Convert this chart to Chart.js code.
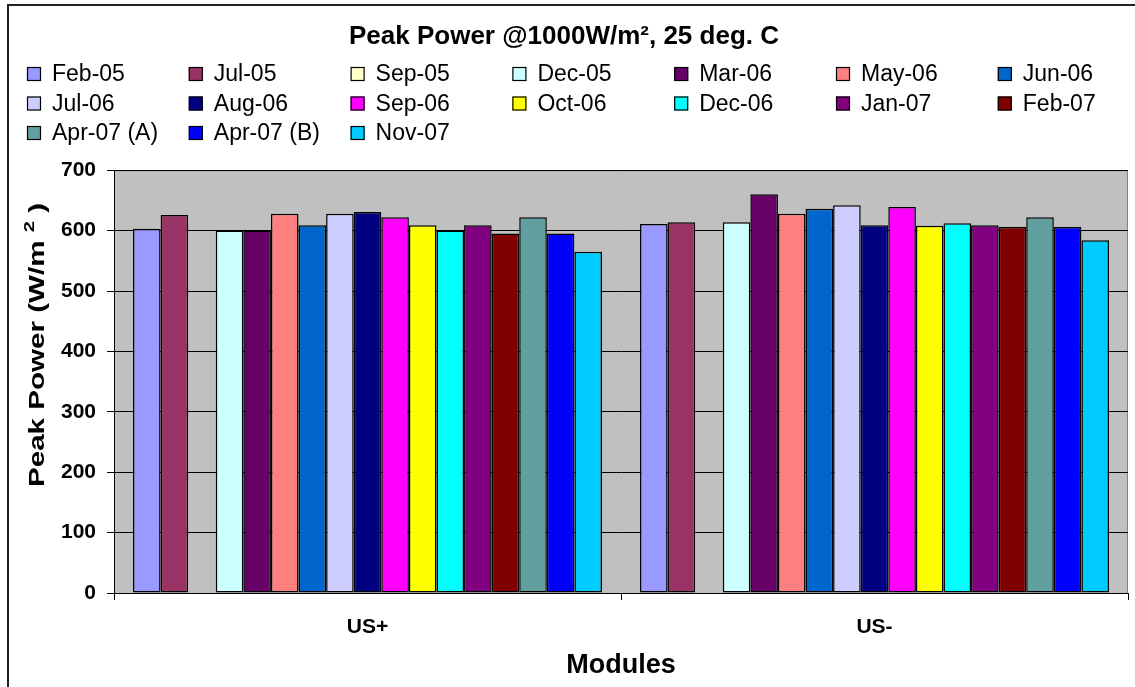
<!DOCTYPE html>
<html>
<head>
<meta charset="utf-8">
<script src="https://cdn.jsdelivr.net/npm/chart.js@4.4.0/dist/chart.umd.min.js"></script>
<style>
  html, body { margin: 0; padding: 0; background: #fff; }
  #wrap { width: 1135px; height: 687px; }
</style>
</head>
<body>
<div id="wrap"><canvas id="myChart" width="1135" height="687"></canvas></div>
<script>
// modules on the x axis
var modules = ["US+", "US-"];

// measurement dates (one bar each per module)
var dates = ["Feb-05", "Jul-05", "Sep-05", "Dec-05", "Mar-06", "May-06", "Jun-06",
             "Jul-06", "Aug-06", "Sep-06", "Oct-06", "Dec-06", "Jan-07", "Feb-07",
             "Apr-07 (A)", "Apr-07 (B)", "Nov-07"];

// peak power W/m2, same order as dates (Sep-05 has no bars)
var usPlus  = [603, 626, null, 600, 600, 628, 609, 628, 631, 622, 609, 600, 609, 595, 622, 595, 565];
var usMinus = [611, 614, null, 614, 660, 628, 636, 642, 609, 639, 608, 612, 609, 606, 622, 606, 584];

var yTicks = [0, 100, 200, 300, 400, 500, 600, 700];

var colors = ["#9999FF", "#993366", "#FFFFCC", "#CCFFFF", "#660066", "#FF8080", "#0066CC",
              "#CCCCFF", "#000080", "#FF00FF", "#FFFF00", "#00FFFF", "#800080", "#800000",
              "#62A0A0", "#0000FF", "#00CCFF"];

var FONT = "'Liberation Sans', Arial, sans-serif";

var dts = [];
for (var i = 0; i < dates.length; i++) {
  dts.push({
    label: dates[i],
    data: [usPlus[i], usMinus[i]],
    backgroundColor: colors[i],
    borderColor: "#000000",
    borderWidth: 1.5,
    borderSkipped: false
  });
}

// grey plot background, outer frame, legend grid and y title
var extras = {
  id: "extras",
  beforeDraw: function (chart) {
    var ctx = chart.ctx, a = chart.chartArea;
    ctx.save();
    ctx.fillStyle = "#FFFFFF";
    ctx.fillRect(0, 0, chart.width, chart.height);
    ctx.fillStyle = "#C0C0C0";
    ctx.fillRect(a.left, a.top, a.right - a.left, a.bottom - a.top);
    ctx.strokeStyle = "#808080";
    ctx.lineWidth = 1;
    ctx.strokeRect(a.left + 0.5, a.top + 0.5, a.right - a.left - 1, a.bottom - a.top);
    ctx.restore();
  },
  afterDraw: function (chart) {
    var ctx = chart.ctx;
    ctx.save();
    // outer frame
    ctx.strokeStyle = "#222";
    ctx.lineWidth = 2;
    ctx.strokeRect(8, 5, 1300, 900);

    // legend, 7 columns
    ctx.font = "23px " + FONT;
    ctx.textBaseline = "middle";
    ctx.textAlign = "left";
    var ds = chart.data.datasets;
    for (var i = 0; i < ds.length; i++) {
      var col = i % 7, row = Math.floor(i / 7);
      var x = 27 + col * 161.8;
      var y = 74 + row * 29.5;
      ctx.fillStyle = ds[i].backgroundColor;
      ctx.fillRect(x, y - 7, 14, 14);
      ctx.strokeStyle = "#000";
      ctx.lineWidth = 1.2;
      ctx.strokeRect(x + 0.5, y - 6.5, 13, 13);
      ctx.fillStyle = "#000";
      ctx.fillText(ds[i].label, x + 25, y + 1);
    }

    // y axis title with raised 2, stretched to the reference length
    ctx.translate(36, 345);
    ctx.rotate(-Math.PI / 2);
    ctx.fillStyle = "#000";
    ctx.textBaseline = "alphabetic";
    var main = "Peak Power (W/m ", sup = "2", tail = " )";
    ctx.font = "bold 22px " + FONT;
    var w1 = ctx.measureText(main).width, w3 = ctx.measureText(tail).width;
    ctx.font = "bold 15px " + FONT;
    var w2 = ctx.measureText(sup).width;
    var total = w1 + w2 + w3;
    ctx.scale(284 / total, 1);
    var sx = -total / 2;
    ctx.textAlign = "left";
    ctx.font = "bold 22px " + FONT;
    ctx.fillText(main, sx, 8);
    ctx.fillText(tail, sx + w1 + w2, 8);
    ctx.font = "bold 15px " + FONT;
    ctx.fillText(sup, sx + w1, -2);
    ctx.restore();
  }
};

var canvas = document.getElementById("myChart").getContext("2d");

var chart = new Chart(canvas, {
  type: "bar",
  data: { labels: modules, datasets: dts },
  plugins: [extras],
  options: {
    responsive: false,
    animation: false,
    layout: { padding: { left: 0, right: 7, top: 0, bottom: 0 } },
    datasets: { bar: { categoryPercentage: 0.925, barPercentage: 1.0 } },
    plugins: {
      legend: { display: false },
      tooltip: { enabled: false },
      title: {
        display: true,
        text: "Peak Power @1000W/m\u00B2, 25 deg. C",
        color: "#000",
        font: { family: FONT, size: 26, weight: "bold" },
        padding: { top: 21, bottom: 118 }
      }
    },
    scales: {
      x: {
        afterFit: function (s) { s.height = 94; },
        grid: { offset: true, drawOnChartArea: false, color: "#000", tickLength: 7 },
        border: { color: "#000", width: 1 },
        ticks: { color: "#000", padding: 15, font: { family: FONT, size: 21, weight: "bold" } },
        title: {
          display: true, text: "Modules", color: "#000",
          font: { family: FONT, size: 27, weight: "bold" },
          padding: { top: 8, bottom: 5 }
        }
      },
      y: {
        min: 0, max: 700,
        afterFit: function (s) { s.width = 114; },
        afterBuildTicks: function (s) { s.ticks = yTicks.map(function (v) { return { value: v }; }); },
        grid: { color: "#000", lineWidth: 1, tickLength: 7 },
        border: { color: "#000", width: 1 },
        ticks: { color: "#000", padding: 11, font: { family: FONT, size: 21, weight: "bold" } }
      }
    }
  }
});
</script>
</body>
</html>
